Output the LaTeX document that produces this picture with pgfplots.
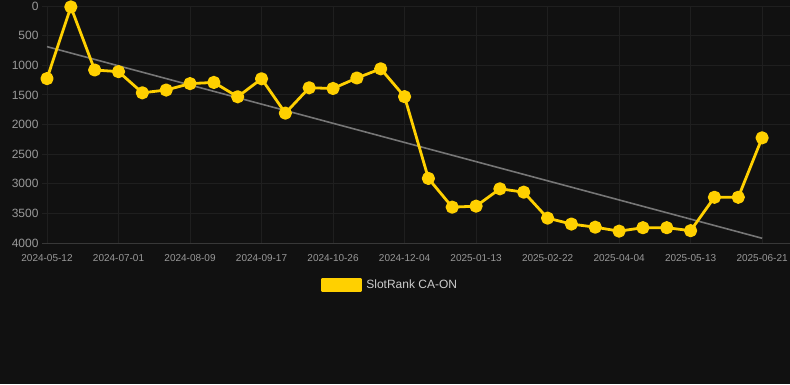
\documentclass[border=0pt]{standalone}
\usepackage{fontspec}
\setmainfont{Liberation Sans}
\usepackage{pgfplots}
\pgfplotsset{compat=1.18}
\definecolor{bg}{HTML}{111111}
\definecolor{gridc}{HTML}{1F1F1F}
\definecolor{gold}{HTML}{FFD000}
\definecolor{tickc}{HTML}{999999}
\definecolor{trend}{HTML}{767676}
\definecolor{legc}{HTML}{CCCCCC}
\begin{document}
\begin{tikzpicture}[x=1pt,y=1pt]
\fill[bg] (0,0) rectangle (790,384);
\begin{axis}[
  at={(42pt,141pt)}, anchor=south west, scale only axis,
  width=748pt, height=237pt,
  xmin=-0.21, xmax=31.17, ymin=0, ymax=4000, y dir=reverse,
  axis line style={draw=none},
  grid=major, grid style={gridc, line width=0.8pt},
  xtick={0,3,...,30},
  xticklabels={2024-05-12,2024-07-01,2024-08-09,2024-09-17,2024-10-26,2024-12-04,2025-01-13,2025-02-22,2025-04-04,2025-05-13,2025-06-21},
  ytick={0,500,...,4000},
  tick style={draw=none},
  /pgf/number format/assume math mode=true,
  /pgf/number format/1000 sep={},
  xticklabel style={font=\fontsize{10}{12}\selectfont, text=tickc, yshift=-8pt},
  yticklabel style={font=\fontsize{12}{14}\selectfont, text=tickc},
  extra y ticks={4000}, extra y tick labels={},
  extra y tick style={grid style={draw=gray!35!bg, line width=1pt}},
  legend style={at={(0.465,-0.177)}, anchor=center, draw=none, fill=none,
    text=legc, font=\fontsize{12}{14}\selectfont},
  legend image code/.code={\fill[gold] (0pt,-5.5pt) rectangle (39pt,5.5pt);},
]
\addplot[trend, line width=1.6pt, forget plot] coordinates {(0,686) (30,3920)};
\addplot[gold, line width=2.8pt, line join=round, mark=*, mark size=5.2pt, mark options={solid, fill=gold, draw=none}] coordinates {
(0,1225) (1,15) (2,1080) (3,1108) (4,1465) (5,1418) (6,1310) (7,1290)
(8,1532) (9,1228) (10,1808) (11,1380) (12,1392) (13,1215) (14,1060)
(15,1530) (16,2910) (17,3395) (18,3378) (19,3085) (20,3142) (21,3580)
(22,3680) (23,3733) (24,3800) (25,3742) (26,3742) (27,3792) (28,3228)
(29,3228) (30,2225)
};
\addlegendentry{\hspace{2pt}SlotRank CA-ON}
\end{axis}
\pgfresetboundingbox
\path (0,0) rectangle (790,384);
\end{tikzpicture}
\end{document}
